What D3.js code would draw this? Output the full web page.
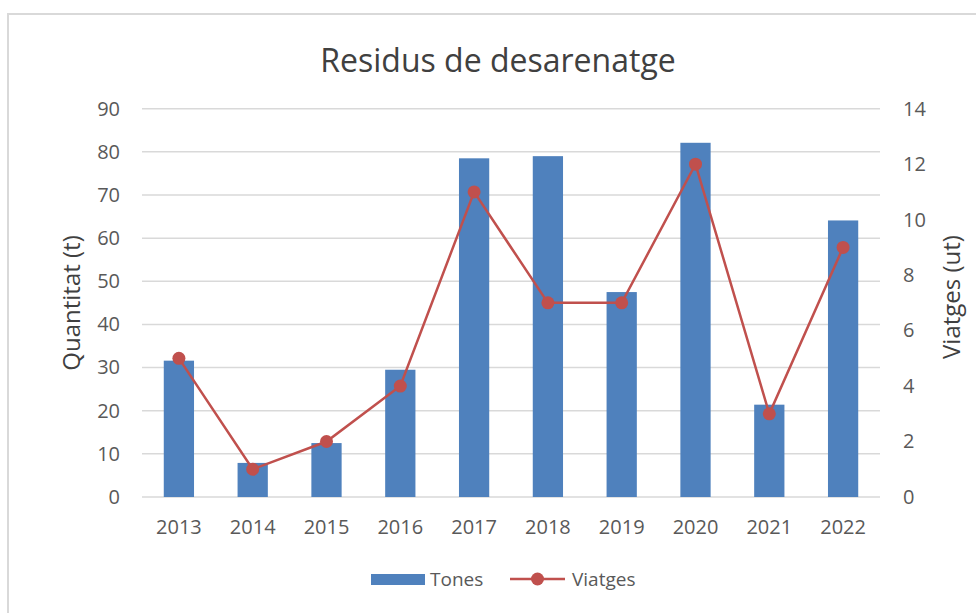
<!DOCTYPE html>
<html>
<head>
<meta charset="utf-8">
<script src="https://cdnjs.cloudflare.com/ajax/libs/d3/7.8.5/d3.min.js"></script>
<style>
  body { margin: 0; background: #fff; }
  text { font-family: "Open Sans", sans-serif; fill: #595959; }
</style>
</head>
<body>
<div id="chart"></div>
<script>
// chart data
const years = ["2013", "2014", "2015", "2016", "2017", "2018", "2019", "2020", "2021", "2022"];
const tones = [31.6, 7.9, 12.5, 29.5, 78.5, 79.0, 47.5, 82.1, 21.4, 64.1];
const viatges = [5, 1, 2, 4, 11, 7, 7, 12, 3, 9];
const leftTicks = [0, 10, 20, 30, 40, 50, 60, 70, 80, 90];
const rightTicks = [0, 2, 4, 6, 8, 10, 12, 14];

const svgWidth = 976;
const svgHeight = 613;

const margin = { top: 108.7, right: 96, bottom: 116, left: 142 };
const chartWidth = svgWidth - margin.left - margin.right;
const chartHeight = svgHeight - margin.top - margin.bottom;

const barColor = "#4F81BD";
const lineColor = "#C0504D";
const gridColor = "#D9D9D9";

const svg = d3.select("#chart")
    .append("svg")
    .attr("width", svgWidth)
    .attr("height", svgHeight);

// outer chart border
svg.append("rect")
    .attr("x", 8)
    .attr("y", 14)
    .attr("width", svgWidth)
    .attr("height", svgHeight)
    .attr("fill", "none")
    .attr("stroke", gridColor)
    .attr("stroke-width", 2);

const chartGroup = svg.append("g")
    .attr("transform", `translate(${margin.left}, ${margin.top})`);

// scales
const xScale = d3.scaleBand().domain(years).range([0, chartWidth]).padding(0);
const yLeft = d3.scaleLinear().domain([0, 90]).range([chartHeight, 0]);
const yRight = d3.scaleLinear().domain([0, 14]).range([chartHeight, 0]);
const barWidth = xScale.bandwidth() * 0.41;

// gridlines
chartGroup.append("g")
    .selectAll("line")
    .data(leftTicks)
    .enter()
    .append("line")
    .attr("x1", 0)
    .attr("x2", chartWidth)
    .attr("y1", d => yLeft(d))
    .attr("y2", d => yLeft(d))
    .attr("stroke", gridColor)
    .attr("stroke-width", 1.5);

// bars
chartGroup.append("g")
    .selectAll("rect")
    .data(tones)
    .enter()
    .append("rect")
    .attr("x", (d, i) => xScale(years[i]) + xScale.bandwidth() / 2 - barWidth / 2)
    .attr("y", d => yLeft(d))
    .attr("width", barWidth)
    .attr("height", d => chartHeight - yLeft(d))
    .attr("fill", barColor);

// line + markers
const line = d3.line()
    .x((d, i) => xScale(years[i]) + xScale.bandwidth() / 2)
    .y(d => yRight(d));

chartGroup.append("path")
    .datum(viatges)
    .attr("d", line)
    .attr("fill", "none")
    .attr("stroke", lineColor)
    .attr("stroke-width", 2.5);

chartGroup.append("g")
    .selectAll("circle")
    .data(viatges)
    .enter()
    .append("circle")
    .attr("cx", (d, i) => xScale(years[i]) + xScale.bandwidth() / 2)
    .attr("cy", d => yRight(d))
    .attr("r", 6.5)
    .attr("fill", lineColor);

// axes (text only, Excel style)
const leftAxis = chartGroup.append("g")
    .call(d3.axisLeft(yLeft).tickValues(leftTicks).tickSize(0).tickPadding(22));
leftAxis.select(".domain").remove();

const rightAxis = chartGroup.append("g")
    .attr("transform", `translate(${chartWidth}, 0)`)
    .call(d3.axisRight(yRight).tickValues(rightTicks).tickSize(0).tickPadding(23));
rightAxis.select(".domain").remove();

const bottomAxis = chartGroup.append("g")
    .attr("transform", `translate(0, ${chartHeight})`)
    .call(d3.axisBottom(xScale).tickSize(0).tickPadding(23));
bottomAxis.select(".domain").remove();

chartGroup.selectAll(".tick text")
    .style("font-family", "'Open Sans', sans-serif")
    .style("font-size", "20px")
    .attr("fill", "#595959");

// title
svg.append("text")
    .attr("x", 498)
    .attr("y", 72)
    .attr("text-anchor", "middle")
    .style("font-size", "32px")
    .style("fill", "#404040")
    .text("Residus de desarenatge");

// axis titles
svg.append("text")
    .attr("transform", "translate(80, 303) rotate(-90)")
    .attr("text-anchor", "middle")
    .style("font-size", "24px")
    .style("fill", "#404040")
    .text("Quantitat (t)");

svg.append("text")
    .attr("transform", "translate(960, 297) rotate(-90)")
    .attr("text-anchor", "middle")
    .style("font-size", "24px")
    .style("fill", "#404040")
    .text("Viatges (ut)");

// legend
const legend = svg.append("g").attr("transform", "translate(0, 579)");

legend.append("rect")
    .attr("x", 371)
    .attr("y", -5)
    .attr("width", 54)
    .attr("height", 11)
    .attr("fill", barColor);

legend.append("text")
    .attr("x", 430)
    .attr("y", 7)
    .style("font-size", "19px")
    .text("Tones");

legend.append("line")
    .attr("x1", 510)
    .attr("x2", 565)
    .attr("y1", 0)
    .attr("y2", 0)
    .attr("stroke", lineColor)
    .attr("stroke-width", 2.5);

legend.append("circle")
    .attr("cx", 537.5)
    .attr("cy", 0)
    .attr("r", 6.5)
    .attr("fill", lineColor);

legend.append("text")
    .attr("x", 572)
    .attr("y", 7)
    .style("font-size", "19px")
    .text("Viatges");
</script>
</body>
</html>
